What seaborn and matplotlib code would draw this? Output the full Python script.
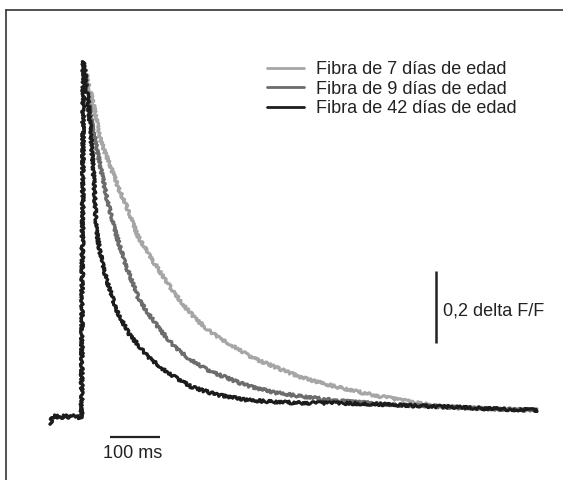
import pandas as pd
import matplotlib.pyplot as plt
from matplotlib.lines import Line2D
import seaborn as sns

# Datos (tiempo en ms, delta F/F)
t_base = [0, 4, 10, 20, 30, 40, 50, 58, 63]
f_base = [-0.02, -0.003, 0.004, -0.002, 0.003, 0.0, 0.004, -0.001, 0.002]

t_7 = [67, 77, 87, 100, 110, 120, 137, 150, 160, 175, 190, 210, 230, 250, 270, 290,
       316, 340, 370, 395, 416, 450, 500, 550, 600, 650, 700, 750, 800, 850, 900, 950, 974]
f_7 = [0.987, 0.925, 0.867, 0.775, 0.735, 0.70, 0.636, 0.595, 0.561, 0.505, 0.469, 0.425,
       0.381, 0.343, 0.306, 0.275, 0.242, 0.218, 0.194, 0.172, 0.158, 0.139, 0.111, 0.092,
       0.075, 0.060, 0.047, 0.036, 0.028, 0.024, 0.022, 0.020, 0.019]

t_9 = [67, 75, 83, 93, 103, 115, 130, 143, 150, 163, 176, 193, 210, 230, 250, 275, 304,
       325, 350, 375, 404, 450, 500, 550, 600, 700, 800, 900, 974]
f_9 = [0.987, 0.90, 0.82, 0.75, 0.681, 0.60, 0.519, 0.459, 0.428, 0.38, 0.333, 0.295,
       0.261, 0.226, 0.194, 0.165, 0.139, 0.124, 0.111, 0.097, 0.083, 0.068, 0.058, 0.049,
       0.042, 0.033, 0.027, 0.022, 0.019]

t_42 = [67, 72, 77, 82, 87, 93, 100, 113, 133, 157, 196, 236, 284, 336, 396, 450, 500,
        600, 700, 800, 900, 974]
f_42 = [0.987, 0.93, 0.867, 0.78, 0.681, 0.519, 0.459, 0.381, 0.297, 0.233, 0.167, 0.122,
        0.083, 0.061, 0.047, 0.042, 0.039, 0.038, 0.033, 0.028, 0.022, 0.019]

etiquetas = ['Fibra de 7 días de edad', 'Fibra de 9 días de edad', 'Fibra de 42 días de edad']
colores = ['#a6a6a6', '#6c6c6c', '#1c1c1c']

frames = []
for lab, t, f in zip(etiquetas, [t_7, t_9, t_42], [f_7, f_9, f_42]):
    frames.append(pd.DataFrame({'t': t_base + t, 'f': f_base + f, 'fibra': lab}))
df = pd.concat(frames, ignore_index=True)

sns.set_style('white')
plt.rcParams['font.family'] = ['Liberation Sans', 'DejaVu Sans']

fig = plt.figure(figsize=(5.63, 4.8), dpi=100)
ax = fig.add_axes([0, 0, 1, 1])
sns.lineplot(data=df, x='t', y='f', hue='fibra', hue_order=etiquetas,
             palette=colores, estimator=None, sort=False, linewidth=2.2, ax=ax)
for ln in ax.lines:
    ln.set_sketch_params(scale=1.4, length=3, randomness=6)

ax.set_xlim(-100, 1026)
ax.set_ylim(-0.175, 1.1583)
ax.set_axis_off()

# barras de escala
ax.plot([120, 219], [-0.0564, -0.0564], color='#222222', lw=1.6, solid_capstyle='butt')
ax.text(166, -0.114, '100 ms', ha='center', va='baseline', fontsize=13, color='#222222')
ax.plot([772, 772], [0.206, 0.406], color='#222222', lw=1.8, solid_capstyle='butt')
ax.text(786, 0.281, '0,2 delta F/F', ha='left', va='baseline', fontsize=13, color='#222222')

leg = ax.legend(loc='upper left', bbox_to_anchor=(266.7 / 563, 1 - 61 / 480),
                bbox_transform=fig.transFigure, frameon=False, fontsize=13,
                handlelength=2.05, handletextpad=0.7, labelspacing=0.14,
                borderpad=0, borderaxespad=0)
for h in leg.get_lines():
    h.set_linewidth(2.0)
    h.set_sketch_params(None)
for txt in leg.get_texts():
    txt.set_color('#222222')

# marco (solo arriba e izquierda visibles)
fig.add_artist(Line2D([6 / 563, 6 / 563], [0, 1 - 9.5 / 480], transform=fig.transFigure,
                      color='#333333', lw=1.2))
fig.add_artist(Line2D([6 / 563, 1], [1 - 9.5 / 480, 1 - 9.5 / 480], transform=fig.transFigure,
                      color='#333333', lw=1.2))

fig.savefig('out.png', dpi=100)
